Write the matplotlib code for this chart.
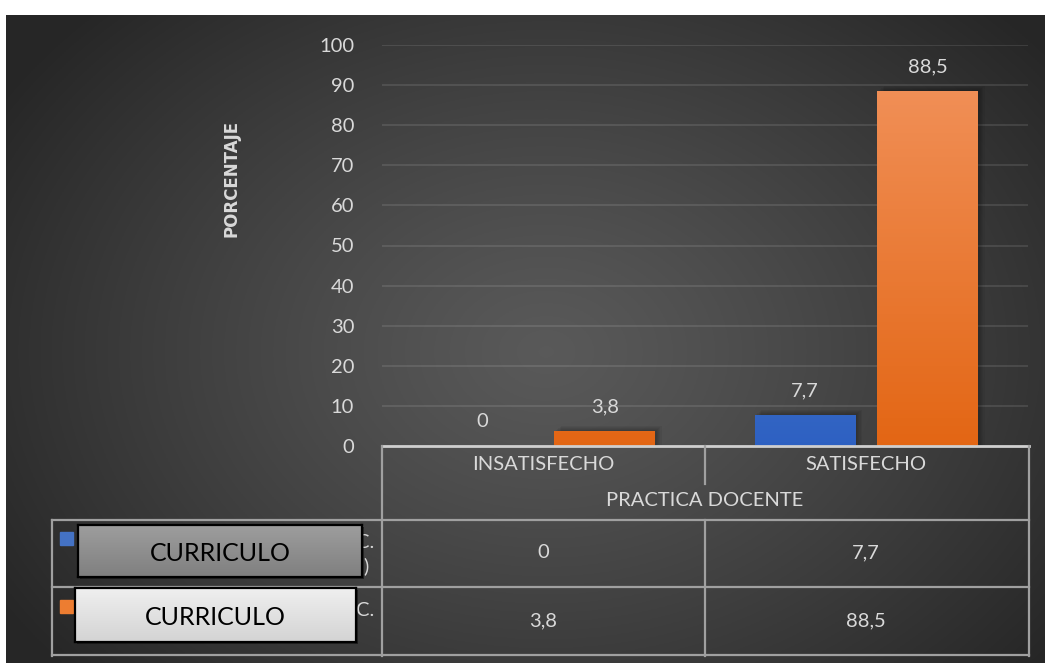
import numpy as np
import matplotlib.pyplot as plt
from matplotlib.patches import Rectangle

plt.rcParams['font.family'] = ['Lato', 'DejaVu Sans']

# data
categorias = ['INSATISFECHO', 'SATISFECHO']
serie_1 = [0, 7.7]      # blue
serie_2 = [3.8, 88.5]   # orange
titulo_x = 'PRACTICA DOCENTE'
titulo_y = 'PORCENTAJE'
leyenda = 'CURRICULO'

W, H = 1045, 663
fig = plt.figure(figsize=(W / 100, H / 100), dpi=100)
fig.patch.set_facecolor('white')
fs = 14.5
tc = '#d9d9d9'


def fx(x):
    return x / W


def fy(y):
    return 1 - y / H


def fmt(v):
    return ('%g' % v).replace('.', ',')


# background with radial gradient (chart area)
bg = fig.add_axes([fx(6), 0, 1 - fx(6), fy(15)])
bg.set_axis_off()
yy, xx = np.mgrid[0:1:300j, 0:1:500j]
r = np.sqrt(((xx - 0.52) / 0.62) ** 2 + ((yy - 0.48) / 0.75) ** 2)
r = np.clip(r, 0, 1) ** 1.2
c0, c1 = 0.35, 0.15
img = c0 + (c1 - c0) * r
bg.imshow(np.dstack([img, img, img]), extent=[0, 1, 0, 1], aspect='auto', origin='lower')
bg.set_xlim(0, 1)
bg.set_ylim(0, 1)

# main axes
ax = fig.add_axes([fx(382), fy(446), fx(1028) - fx(382), fy(45) - fy(446)])
ax.set_facecolor('none')
ax.set_xlim(-0.5, 1.5)
ax.set_ylim(0, 100)
ax.set_yticks(np.arange(0, 101, 10))
ax.set_xticks([])
for s in ax.spines.values():
    s.set_visible(False)
ax.tick_params(axis='y', length=0, pad=20, labelsize=fs, labelcolor=tc)
ax.yaxis.grid(True, color='#ffffff', alpha=0.1, lw=1.5)
ax.set_axisbelow(True)

x = np.arange(len(categorias))
w = 0.312
d = 0.19


def grad_bars(xs, vals, top, bot):
    bars = ax.bar(xs, vals, w, color=bot, zorder=2)
    g = np.linspace(0, 1, 100)[:, None]
    top = np.array(top)
    bot = np.array(bot)
    cols = bot[None, None, :] * (1 - g[:, :, None]) + top[None, None, :] * g[:, :, None]
    for b in bars:
        if b.get_height() <= 0:
            continue
        bx, bw, bh = b.get_x(), b.get_width(), b.get_height()
        # soft shadow
        for k in range(1, 6):
            ax.add_patch(Rectangle((bx + 0.004 * k, 0), bw, bh + 0.25 * k,
                                   color='black', alpha=0.05, lw=0, zorder=1))
        im = ax.imshow(cols, extent=[bx, bx + bw, 0, 100], origin='lower',
                       aspect='auto', zorder=3)
        im.set_clip_path(b)
    ax.set_xlim(-0.5, 1.5)
    ax.set_ylim(0, 100)
    return bars


b1 = grad_bars(x - d, serie_1, (0.40, 0.56, 0.84), (0.18, 0.38, 0.76))
b2 = grad_bars(x + d, serie_2, (0.95, 0.58, 0.37), (0.89, 0.40, 0.08))

for bars, vals in ((b1, serie_1), (b2, serie_2)):
    for b, v in zip(bars, vals):
        ax.annotate(fmt(v), (b.get_x() + b.get_width() / 2, v), xytext=(0, 17.5),
                    textcoords='offset points', ha='center', va='center',
                    fontsize=fs, color=tc, zorder=5)

# y title
fig.text(fx(231), fy(178), titulo_y, rotation=90, ha='center', va='center',
         fontsize=12, fontweight='bold', color=tc, family='DejaVu Sans')

# data table (drawn in figure pixels)
lc = '#a0a0a0'


def hline(y, x0, x1, c=lc, lw=1.6):
    fig.add_artist(plt.Line2D([fx(x0), fx(x1)], [fy(y), fy(y)], color=c, lw=lw, zorder=4))


def vline(xp, y0, y1, c=lc, lw=1.6):
    fig.add_artist(plt.Line2D([fx(xp), fx(xp)], [fy(y0), fy(y1)], color=c, lw=lw, zorder=4))


hline(446, 382, 1029, c='#cfcfcf', lw=2)
vline(382, 446, 656)
vline(1029, 446, 656)
vline(705, 446, 484)
vline(705, 520, 656)
vline(52, 520, 656)
for yl in (520, 587, 655):
    hline(yl, 52, 1029)

cx = [543, 866]
for c, name in zip(cx, categorias):
    fig.text(fx(c), fy(465), name, ha='center', va='center', fontsize=fs, color=tc)
fig.text(fx(705), fy(501), titulo_x, ha='center', va='center', fontsize=fs, color=tc)
for c, v in zip(cx, serie_1):
    fig.text(fx(c), fy(553), fmt(v), ha='center', va='center', fontsize=fs, color=tc)
for c, v in zip(cx, serie_2):
    fig.text(fx(c), fy(621), fmt(v), ha='center', va='center', fontsize=fs, color=tc)

# legend keys
fig.add_artist(Rectangle((fx(60), fy(545)), fx(13), 13 / H, color='#4472c4', zorder=4))
fig.add_artist(Rectangle((fx(60), fy(613)), fx(13), 13 / H, color='#ed7d31', zorder=4))
# fragments of legend text visible beside the boxes
fig.text(fx(374), fy(543), 'C.', ha='right', va='center', fontsize=fs, color=tc, zorder=3)
fig.text(fx(369), fy(566), ')', ha='right', va='center', fontsize=fs, color=tc, zorder=3)
fig.text(fx(374), fy(610), 'C.', ha='right', va='center', fontsize=fs, color=tc, zorder=3)


# overlay boxes with gradient
def box(x0, y0, x1, y1, top, bot):
    sh = fig.add_axes([fx(x0 + 2), fy(y1 + 2), fx(x1) - fx(x0), fy(y0) - fy(y1)], zorder=5)
    sh.set_axis_off()
    sh.add_patch(Rectangle((0, 0), 1, 1, color='black', alpha=0.35, transform=sh.transAxes))
    a = fig.add_axes([fx(x0), fy(y1), fx(x1) - fx(x0), fy(y0) - fy(y1)], zorder=6)
    g = np.linspace(bot, top, 50)[:, None]
    a.imshow(np.dstack([g, g, g]), extent=[0, 1, 0, 1], aspect='auto', origin='lower')
    a.set_xticks([])
    a.set_yticks([])
    for s in a.spines.values():
        s.set_color('black')
        s.set_linewidth(1.6)
    a.text(0.5, 0.45, leyenda, ha='center', va='center', fontsize=18, color='black',
           transform=a.transAxes)


box(78, 525, 362, 577, 0.62, 0.50)
box(75, 588, 356, 642, 0.94, 0.83)

fig.savefig('out.png', dpi=100, facecolor=fig.get_facecolor())
